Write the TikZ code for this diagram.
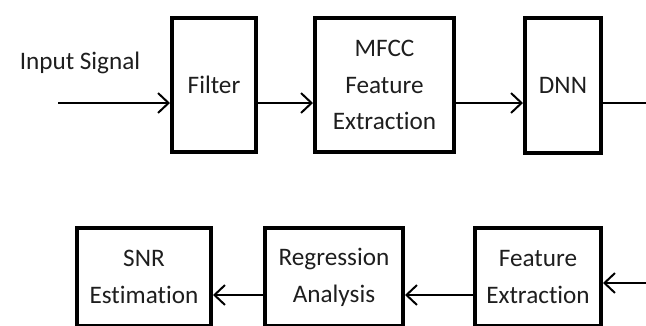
\documentclass[tikz,border=0pt]{standalone}
\usepackage{fontspec}
\setmainfont{Carlito}[Ligatures=NoCommon]
\usetikzlibrary{positioning,arrows.meta}
\definecolor{ctext}{RGB}{30,30,30}

\begin{document}
\begin{tikzpicture}[
    x=0.03cm, y=-0.03cm,
    block/.style={draw, line width=3.4pt, align=center, inner sep=0pt,
                  text=ctext, font=\fontsize{21.5}{31.5}\selectfont},
    flow/.style={line width=1.7pt, -{Straight Barb[length=9pt,width=17pt,line width=1.7pt]}},
    >=stealth
  ]
  \useasboundingbox (0,0) rectangle (646,325);
  \clip (0,0) rectangle (646,325);

  % top row
  \node[block, minimum width=2.52cm, minimum height=4.02cm] (filter) at (214,85) {Filter};
  \node[block, minimum width=4.17cm, minimum height=4.02cm] (mfcc) at (384.5,85) {MFCC\\ Feature\\ Extraction};
  \node[block, minimum width=2.28cm, minimum height=4.05cm] (dnn) at (563,85.5) {DNN};
  \node[text=ctext, font=\fontsize{21.5}{26}\selectfont] (insig) at (80,63) {Input Signal};

  % bottom row
  \node[block, minimum width=4.02cm, minimum height=2.94cm] (snr) at (144,277) {SNR\\ Estimation};
  \node[block, minimum width=4.14cm, minimum height=2.94cm] (regr) at (334,277) {Regression\\ Analysis};
  \node[block, minimum width=3.78cm, minimum height=2.94cm] (featx) at (538,277) {Feature\\ Extraction};

  \coordinate (src) at (58,103);
  \coordinate (outr) at (660,103);
  \coordinate (inr) at (660,283);
  \coordinate (low) at (0,295);

  \draw[flow] (src) -- (src -| filter.west);
  \draw[flow] (filter.east |- src) -- (mfcc.west |- src);
  \draw[flow] (mfcc.east |- src) -- (dnn.west |- src);
  \draw[line width=1.7pt] (dnn.east |- src) -- (outr);

  \draw[flow] (inr) -- (featx.east |- inr);
  \draw[flow] (featx.west |- low) -- (regr.east |- low);
  \draw[flow] (regr.west |- low) -- (snr.east |- low);
\end{tikzpicture}
\end{document}
